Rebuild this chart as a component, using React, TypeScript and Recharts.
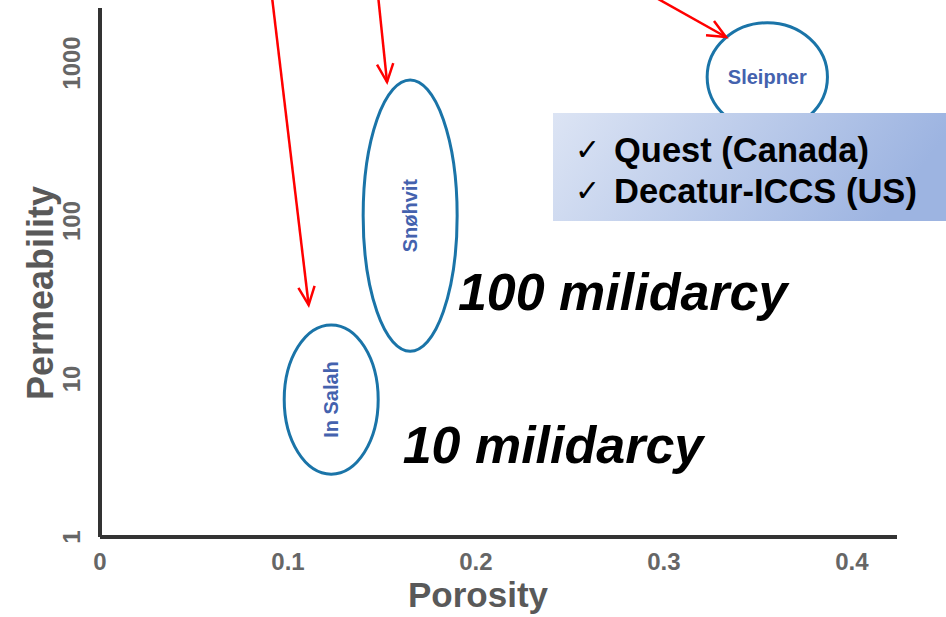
import React from 'react'
import { ScatterChart, Scatter, XAxis, YAxis, ReferenceArea, ReferenceLine, ReferenceDot, Label } from 'recharts'

const FONT = '"Liberation Sans", Arial, sans-serif'

// storage sites: porosity / permeability envelopes
const sites = ['In Salah', 'Snøhvit', 'Sleipner']
const porosityLow = [0.098, 0.14, 0.323]
const porosityHigh = [0.148, 0.19, 0.387]
const permLow = [2.5, 15, 370]
const permHigh = [22, 780, 1800]
const labelVertical = [true, true, false]

const xTicks = [0, 0.1, 0.2, 0.3, 0.4]
const yTicks = [1, 10, 100, 1000]

// red arrows coming in from above the plot
const arrowFromX = [0.0915, 0.148, 0.295]
const arrowToX = [0.111, 0.1527, 0.333]
const arrowToY = [29.4, 758, 1462]
const arrowFromY = 2620

const notes = ['100 milidarcy', '10 milidarcy']
const noteX = [0.1904, 0.161]
const noteY = [27.3, 2.94]

const legendItems = ['Quest (Canada)', 'Decatur-ICCS (US)']

const centers = sites.map((name, i) => ({
  name,
  x: (porosityLow[i] + porosityHigh[i]) / 2,
  y: Math.sqrt(permLow[i] * permHigh[i]),
  vertical: labelVertical[i],
}))

const XTick = (p: any) => (
  <text x={p.x} y={p.y + 33} textAnchor="middle" fontFamily={FONT} fontWeight="bold" fontSize={24} fill="#666">
    {p.payload.value === 0 ? '0' : p.payload.value.toFixed(1)}
  </text>
)

const YTick = (p: any) => (
  <text
    transform={`translate(${p.x - 28},${p.y}) rotate(-90)`}
    dy="0.35em"
    textAnchor="middle"
    fontFamily={FONT}
    fontWeight="bold"
    fontSize={24}
    fill="#666"
  >
    {p.payload.value}
  </text>
)

const Ellipse = (p: any) => {
  const w = Math.abs(p.width)
  const h = Math.abs(p.height)
  return (
    <ellipse cx={p.x + w / 2} cy={p.y + h / 2} rx={w / 2} ry={h / 2} fill="none" stroke="#1a74a8" strokeWidth={3} />
  )
}

const SiteLabel = (p: any) => {
  const { cx, cy, payload } = p
  return (
    <text
      transform={`translate(${cx},${cy})${payload.vertical ? ' rotate(-90)' : ''}`}
      dy="0.35em"
      textAnchor="middle"
      fontFamily={FONT}
      fontWeight="bold"
      fontSize={20}
      fill="#4462ae"
    >
      {payload.name}
    </text>
  )
}

const Arrow = (p: any) => {
  const { x1, y1, x2, y2 } = p
  const ang = Math.atan2(y2 - y1, x2 - x1)
  const L = 20
  const a = 0.42
  const h1 = `${x2 - L * Math.cos(ang - a)},${y2 - L * Math.sin(ang - a)}`
  const h2 = `${x2 - L * Math.cos(ang + a)},${y2 - L * Math.sin(ang + a)}`
  return (
    <g>
      <line x1={x1} y1={y1} x2={x2} y2={y2} stroke="#ff0000" strokeWidth={2.5} />
      <polyline points={`${h1} ${x2},${y2} ${h2}`} fill="none" stroke="#ff0000" strokeWidth={2.5} />
    </g>
  )
}

const noteShape = (text: string) => (p: any) => (
  <text x={p.cx} y={p.cy} fontFamily={FONT} fontWeight="bold" fontStyle="italic" fontSize={52} fill="#000">
    {text}
  </text>
)

export default function App() {
  return (
    <div style={{ position: 'absolute', left: 0, top: 0, width: 946, height: 617, background: '#fff' }}>
      <ScatterChart width={946} height={617} margin={{ top: 8, right: 49, bottom: 50, left: 40 }}>
        <XAxis
          type="number"
          dataKey="x"
          domain={[0, 0.424]}
          ticks={xTicks}
          allowDataOverflow
          height={30}
          tickLine={false}
          tickSize={0}
          tickMargin={0}
          axisLine={{ stroke: '#333', strokeWidth: 4 }}
          tick={<XTick />}
        >
          <Label
            content={() => (
              <text x={478} y={607} textAnchor="middle" fontFamily={FONT} fontWeight="bold" fontSize={35} fill="#595959">
                Porosity
              </text>
            )}
          />
        </XAxis>
        <YAxis
          type="number"
          dataKey="y"
          scale="log"
          domain={[1, 2230]}
          ticks={yTicks}
          allowDataOverflow
          width={60}
          tickLine={false}
          tickSize={0}
          tickMargin={0}
          axisLine={{ stroke: '#333', strokeWidth: 4 }}
          tick={<YTick />}
        >
          <Label
            content={() => (
              <text
                transform="translate(40,293) rotate(-90)"
                dy="0.35em"
                textAnchor="middle"
                fontFamily={FONT}
                fontWeight="bold"
                fontSize={36}
                fill="#595959"
              >
                Permeability
              </text>
            )}
          />
        </YAxis>
        {sites.map((s, i) => (
          <ReferenceArea
            key={s}
            x1={porosityLow[i]}
            x2={porosityHigh[i]}
            y1={permLow[i]}
            y2={permHigh[i]}
            ifOverflow="visible"
            shape={<Ellipse />}
          />
        ))}
        <Scatter data={centers} isAnimationActive={false} shape={<SiteLabel />} />
        {arrowFromX.map((x, i) => (
          <ReferenceLine
            key={i}
            segment={[
              { x, y: arrowFromY },
              { x: arrowToX[i], y: arrowToY[i] },
            ]}
            ifOverflow="visible"
            shape={<Arrow />}
          />
        ))}
        {notes.map((n, i) => (
          <ReferenceDot key={n} x={noteX[i]} y={noteY[i]} ifOverflow="visible" shape={noteShape(n)} />
        ))}
      </ScatterChart>
      <svg width={946} height={617} style={{ position: 'absolute', left: 0, top: 0, pointerEvents: 'none' }}>
        <defs>
          <linearGradient id="legendFill" x1="0" y1="0" x2="1" y2="0.2">
            <stop offset="0" stopColor="#dce4f4" />
            <stop offset="1" stopColor="#9db4e1" />
          </linearGradient>
        </defs>
        <rect x={553} y={113} width={393} height={108} fill="url(#legendFill)" />
        {legendItems.map((t, i) => (
          <g key={t}>
            <text x={575} y={160 + 41 * i} fontFamily="DejaVu Sans" fontSize={30} fill="#000">
              ✓
            </text>
            <text x={614} y={162 + 41 * i} fontFamily={FONT} fontWeight="bold" fontSize={34.5} fill="#000">
              {t}
            </text>
          </g>
        ))}
      </svg>
    </div>
  )
}
